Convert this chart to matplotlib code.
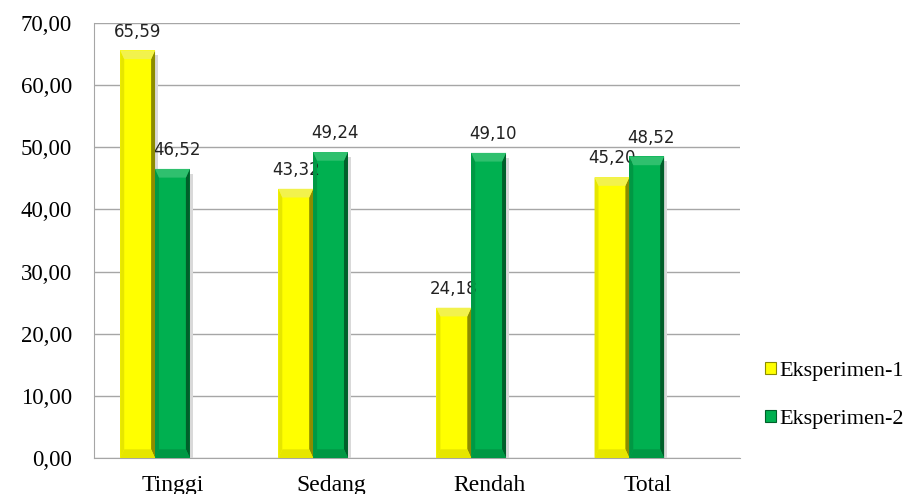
import numpy as np
import matplotlib.pyplot as plt
import matplotlib.transforms as mtransforms
from matplotlib.patches import Polygon, Patch

categories = ['Tinggi', 'Sedang', 'Rendah', 'Total']
eksperimen_1 = [65.59, 43.32, 24.18, 45.20]
eksperimen_2 = [46.52, 49.24, 49.10, 48.52]
series_names = ['Eksperimen-1', 'Eksperimen-2']
y_ticks = np.arange(0, 71, 10)

# face, left edge, right edge, top bevel
yellow = ('#ffff00', '#e6e600', '#8c8c00', '#f2f24d')
green = ('#00b050', '#009844', '#005f2a', '#2fc06e')


def fmt(v):
    return '{:.2f}'.format(v).replace('.', ',')


def bevel_bar(ax, x, h, w, cols):
    face, left, right, top = cols
    dx, dy = 0.025, 1.4
    x0, x1 = x - w / 2, x + w / 2
    # soft shadow on the right
    ax.add_patch(Polygon([(x1, 0), (x1 + 0.018, 0), (x1 + 0.018, h - 0.8), (x1, h - 0.8)],
                         closed=True, color='#d9d9d9', lw=0, zorder=2))
    ax.bar(x, h, w, color=face, linewidth=0, zorder=3)
    ax.add_patch(Polygon([(x0, 0), (x0 + dx, dy), (x0 + dx, h - dy), (x0, h)],
                         closed=True, color=left, lw=0, zorder=4))
    ax.add_patch(Polygon([(x1, 0), (x1 - dx, dy), (x1 - dx, h - dy), (x1, h)],
                         closed=True, color=right, lw=0, zorder=4))
    ax.add_patch(Polygon([(x0, h), (x1, h), (x1 - dx, h - dy), (x0 + dx, h - dy)],
                         closed=True, color=top, lw=0, zorder=4))
    ax.add_patch(Polygon([(x0, 0), (x1, 0), (x1 - dx, dy), (x0 + dx, dy)],
                         closed=True, color=left, lw=0, zorder=4))


fig = plt.figure(figsize=(9.12, 4.94), dpi=100)
ax = fig.add_axes([0.1031, 0.0729, 0.7083, 0.8805])

x = np.arange(len(categories))
w = 0.22
for i in x:
    bevel_bar(ax, i - w / 2, eksperimen_1[i], w, yellow)
    bevel_bar(ax, i + w / 2, eksperimen_2[i], w, green)
    ax.annotate(fmt(eksperimen_1[i]), (i - w / 2, eksperimen_1[i]), xytext=(0, 7),
                textcoords='offset points', ha='center', va='bottom',
                fontsize=12, color='#222222', family='DejaVu Sans')
    ax.annotate(fmt(eksperimen_2[i]), (i + w / 2, eksperimen_2[i]), xytext=(3, 7),
                textcoords='offset points', ha='center', va='bottom',
                fontsize=12, color='#222222', family='DejaVu Sans')

ax.set_xlim(-0.386, 3.70)
ax.set_ylim(0, 70)
ax.set_yticks(y_ticks)
ax.set_yticklabels([fmt(v) for v in y_ticks], family='Liberation Serif', fontsize=16.5)
ax.set_xticks(x)
ax.set_xticklabels(categories, family='Liberation Serif', fontsize=17)
ax.tick_params(axis='y', length=0, pad=16)
ax.tick_params(axis='x', length=0, pad=12)
shift = mtransforms.ScaledTranslation(18 / 100, 0, fig.dpi_scale_trans)
for lab in ax.get_xticklabels():
    lab.set_transform(lab.get_transform() + shift)
ax.grid(axis='y', color='#a6a6a6', linewidth=1, zorder=0)
ax.set_axisbelow(True)
for s in ['top', 'right']:
    ax.spines[s].set_visible(False)
ax.spines['left'].set_color('#a6a6a6')
ax.spines['bottom'].set_color('#a6a6a6')

handles = [Patch(facecolor=yellow[0], edgecolor=yellow[2], lw=0.8),
           Patch(facecolor=green[0], edgecolor=green[2], lw=0.8)]
fig.legend(handles, series_names, loc='center left', bbox_to_anchor=(0.817, 0.2),
           frameon=False, prop={'family': 'Liberation Serif', 'size': 16},
           handlelength=0.5, handleheight=0.5, handletextpad=0.15, labelspacing=1.3)

fig.savefig('out.png', dpi=100)
